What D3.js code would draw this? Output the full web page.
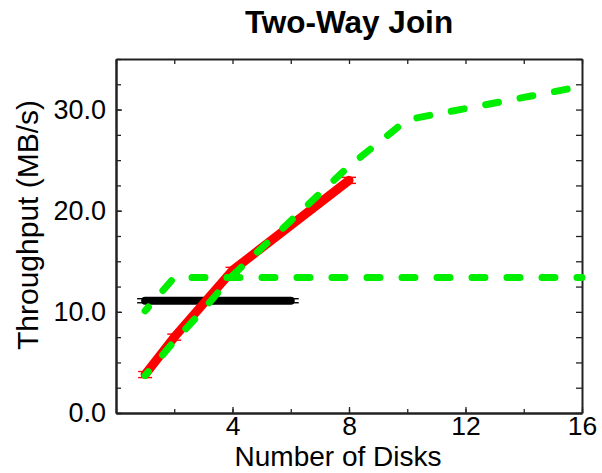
<!DOCTYPE html>
<html>
<head>
<meta charset="utf-8">
<script src="https://cdn.jsdelivr.net/npm/d3@7"></script>
<style>
  html, body { margin: 0; padding: 0; background: #fff; }
  svg { display: block; }
  text { font-family: "Liberation Sans", Arial, Helvetica, sans-serif; fill: #000; }
</style>
</head>
<body>
<svg id="chart" width="602" height="473"></svg>
<script>
// ---- data ----
const xTickLabels = [4, 8, 12, 16];
const yTickLabels = [0, 10, 20, 30];

const blackDisks = [1, 2, 3, 4, 5, 6];
const blackVals  = [11.1, 11.1, 11.1, 11.1, 11.1, 11.1];
const blackErr   = [0.2, 0.2, 0.2, 0.2, 0.2, 0.2];

const redDisks = [1, 2, 4, 8];
const redVals  = [3.8, 7.5, 14.1, 23.0];
const redErr   = [0.3, 0.3, 0.3, 0.3];

const greenUpDisks = [1, 2, 3, 4, 6, 8, 10, 12, 14, 16];
const greenUpVals  = [3.7, 7.1, 10.2, 13.6, 19.0, 24.4, 29.0, 30.1, 31.2, 32.3];

const greenLowDisks = [1, 2, 4, 8, 12, 16];
const greenLowVals  = [10.1, 13.4, 13.4, 13.4, 13.4, 13.4];

// ---- layout ----
const svg = d3.select("#chart");
const L = 116, R = 582, T = 59, B = 413;
const x = d3.scaleLinear().domain([0, 16]).range([L, R]);
const y = d3.scaleLinear().domain([0, 35]).range([B, T]);

// title
svg.append("text").attr("x", (L + R) / 2).attr("y", 33)
  .attr("text-anchor", "middle").attr("font-size", 31.5).attr("font-weight", "bold")
  .text("Two-Way Join");

// axes (ticks pointing inward)
const xMinor = d3.range(0, 17, 2);
const yMinor = d3.range(0, 35.01, 2.5);

const axB = d3.axisBottom(x).tickValues(xTickLabels).tickSize(-6).tickSizeOuter(0).tickPadding(3).tickFormat(d3.format("d"));
const axBm = d3.axisBottom(x).tickValues(xMinor).tickSize(-4).tickSizeOuter(0).tickFormat("");
const axT = d3.axisTop(x).tickValues(xMinor).tickSize(-5).tickSizeOuter(0).tickFormat("");
const axL = d3.axisLeft(y).tickValues(yTickLabels).tickSize(-6).tickSizeOuter(0).tickPadding(10).tickFormat(d3.format(".1f"));
const axLm = d3.axisLeft(y).tickValues(yMinor).tickSize(-5).tickSizeOuter(0).tickFormat("");
const axR = d3.axisRight(y).tickValues(yMinor).tickSize(-6).tickSizeOuter(0).tickFormat("");

function style(g, size) {
  g.selectAll(".domain").attr("stroke", "#222").attr("stroke-width", 2);
  g.selectAll(".tick line").attr("stroke", "#222").attr("stroke-width", 1.3);
  g.selectAll(".tick text").attr("font-size", size).attr("fill", "#000")
    .attr("font-family", "Liberation Sans, Arial, sans-serif");
}

svg.append("g").attr("transform", `translate(0,${B})`).call(axBm).call(style, 0);
svg.append("g").attr("transform", `translate(0,${B})`).call(axB).call(style, 26.5);
svg.append("g").attr("transform", `translate(0,${T})`).call(axT).call(style, 0);
svg.append("g").attr("transform", `translate(${L},0)`).call(axLm).call(style, 0);
svg.append("g").attr("transform", `translate(${L},0)`).call(axL).call(style, 27);
svg.append("g").attr("transform", `translate(${R},0)`).call(axR).call(style, 0);

// axis titles
svg.append("text").attr("x", 338).attr("y", 466).attr("text-anchor", "middle")
  .attr("font-size", 28).text("Number of Disks");
svg.append("text").attr("transform", `translate(38,${(T + B) / 2 - 11}) rotate(-90)`)
  .attr("text-anchor", "middle").attr("font-size", 30).text("Throughput (MB/s)");

const line = d3.line().x(d => x(d[0])).y(d => y(d[1]));
const zip = (a, b) => a.map((v, i) => [v, b[i]]);

function errBars(xs, vs, es, color, w) {
  const g = svg.append("g").attr("stroke", color).attr("stroke-width", 1.4).attr("fill", "none");
  xs.forEach((xv, i) => {
    const cx = x(xv), y1 = y(vs[i] - es[i]), y2 = y(vs[i] + es[i]);
    g.append("line").attr("x1", cx).attr("x2", cx).attr("y1", y1).attr("y2", y2);
    g.append("line").attr("x1", cx - w).attr("x2", cx + w).attr("y1", y1).attr("y2", y1);
    g.append("line").attr("x1", cx - w).attr("x2", cx + w).attr("y1", y2).attr("y2", y2);
  });
}

// black
errBars(blackDisks, blackVals, blackErr, "#000", 8);
svg.append("path").datum(zip(blackDisks, blackVals)).attr("d", line)
  .attr("fill", "none").attr("stroke", "#000").attr("stroke-width", 8)
  .attr("stroke-linecap", "round").attr("stroke-linejoin", "round");

// red
errBars(redDisks, redVals, redErr, "#ff0000", 7);
svg.append("path").datum(zip(redDisks, redVals)).attr("d", line)
  .attr("fill", "none").attr("stroke", "#ff0000").attr("stroke-width", 9)
  .attr("stroke-linecap", "round").attr("stroke-linejoin", "round");

// green dashed
[[greenLowDisks, greenLowVals], [greenUpDisks, greenUpVals]].forEach(([xs, vs]) => {
  svg.append("path").datum(zip(xs, vs)).attr("d", line)
    .attr("fill", "none").attr("stroke", "#00ee00").attr("stroke-width", 7)
    .attr("stroke-dasharray", "13,22").attr("stroke-dashoffset", 8)
    .attr("stroke-linecap", "round").attr("stroke-linejoin", "round");
});
</script>
</body>
</html>
